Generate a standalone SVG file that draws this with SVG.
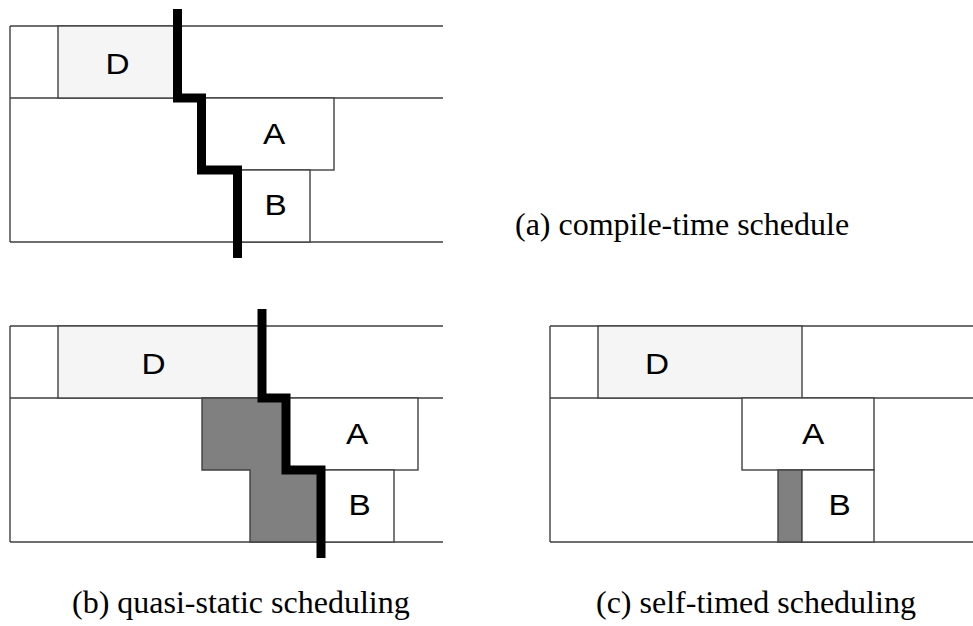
<svg xmlns="http://www.w3.org/2000/svg" width="973" height="626" viewBox="0 0 973 626">
<style>
.ln{stroke:#404040;stroke-width:1.4;fill:none}
.box{stroke:#404040;stroke-width:1.4;fill:#ffffff}
.dbox{stroke:#404040;stroke-width:1.4;fill:#f5f5f5}
.gray{stroke:#404040;stroke-width:1.4;fill:#808080}
.cut{stroke:#000;stroke-width:9;fill:none;stroke-linejoin:miter;stroke-linecap:butt}
.lbl{font-family:"Liberation Sans",Arial,sans-serif;font-size:29px;fill:#000;text-anchor:middle}
.cap{font-family:"Liberation Serif","Times New Roman",serif;font-size:32px;fill:#000}
</style>
<rect width="973" height="626" fill="#fff"/>
<g id="panel-a">
  <g id="a-grid">
    <path class="ln" d="M10,26 H443 M10,98 H443 M10,242 H443 M10,26 V242"/>
  </g>
  <g id="a-D"><rect class="dbox" x="58" y="26" width="120" height="72"/><text class="lbl" transform="translate(117.5,74) scale(1.15,1)">D</text></g>
  <g id="a-A"><rect class="box" x="202" y="98" width="132" height="72"/><text class="lbl" transform="translate(274,144) scale(1.15,1)">A</text></g>
  <g id="a-B"><rect class="box" x="238" y="170" width="72" height="72"/><text class="lbl" transform="translate(275.5,215) scale(1.15,1)">B</text></g>
  <g id="a-cut"><path class="cut" d="M177.5,9 V98 H201.5 V170 H237.5 V258"/></g>
  <text class="cap" x="515" y="235">(a) compile-time schedule</text>
</g>
<g id="panel-b">
  <g id="b-grid">
    <path class="ln" d="M10,326 H443 M10,398 H443 M10,542 H443 M10,326 V542"/>
  </g>
  <g id="b-D"><rect class="dbox" x="58" y="326" width="204" height="72"/><text class="lbl" transform="translate(153.5,374) scale(1.15,1)">D</text></g>
  <g id="b-idle"><path class="gray" d="M202,398 H286 V470 H321 V542 H250 V470 H202 Z"/></g>
  <g id="b-A"><rect class="box" x="286" y="398" width="132" height="72"/><text class="lbl" transform="translate(357,444) scale(1.15,1)">A</text></g>
  <g id="b-B"><rect class="box" x="321" y="470" width="73" height="72"/><text class="lbl" transform="translate(359.5,515) scale(1.15,1)">B</text></g>
  <g id="b-cut"><path class="cut" d="M262,309 V398 H286 V470 H321 V558"/></g>
  <text class="cap" x="72" y="613">(b) quasi-static scheduling</text>
</g>
<g id="panel-c">
  <g id="c-grid">
    <path class="ln" d="M550,326 H973 M550,398 H973 M550,542 H973 M550,326 V542"/>
  </g>
  <g id="c-D"><rect class="dbox" x="598" y="326" width="204" height="72"/><text class="lbl" transform="translate(657,374) scale(1.15,1)">D</text></g>
  <g id="c-A"><rect class="box" x="742" y="398" width="132" height="72"/><text class="lbl" transform="translate(813,444) scale(1.15,1)">A</text></g>
  <g id="c-idle"><rect class="gray" x="778" y="470" width="24" height="72"/></g>
  <g id="c-B"><rect class="box" x="802" y="470" width="72" height="72"/><text class="lbl" transform="translate(839.5,515) scale(1.15,1)">B</text></g>
  <text class="cap" x="596" y="613">(c) self-timed scheduling</text>
</g>
</svg>
